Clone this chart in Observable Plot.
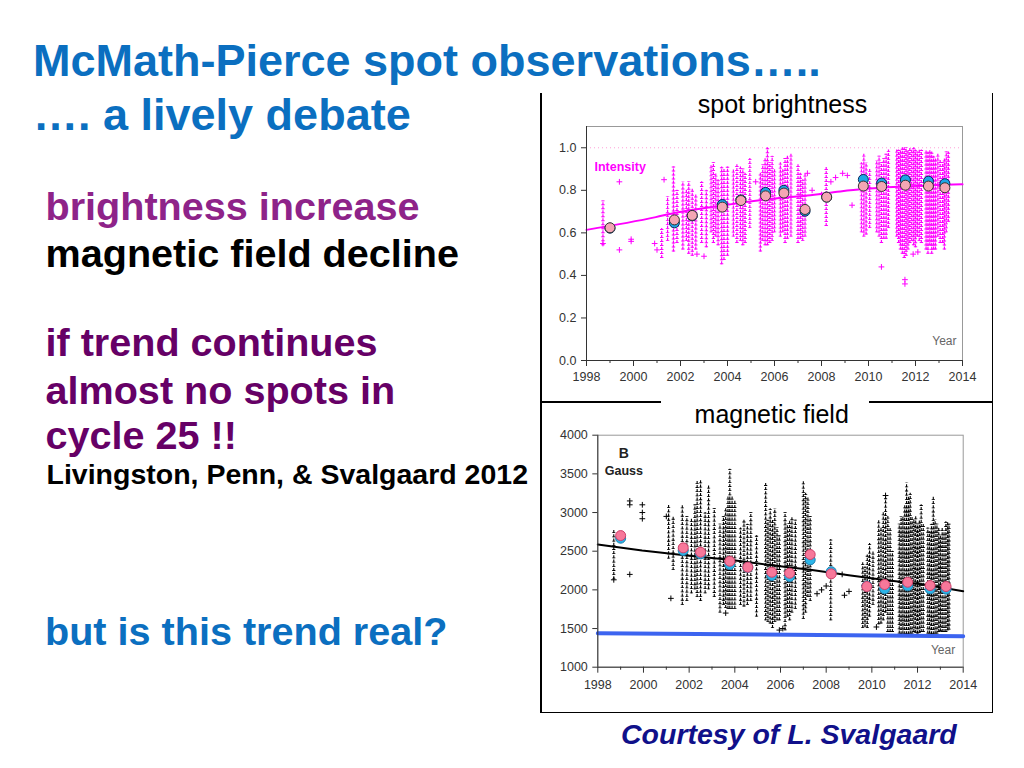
<!DOCTYPE html>
<html><head><meta charset="utf-8">
<script src="https://cdn.jsdelivr.net/npm/d3@7"></script>
<script src="https://cdn.jsdelivr.net/npm/@observablehq/plot@0.6"></script>
<style>
body{margin:0;background:#fff;}
#page{position:relative;width:1024px;height:768px;overflow:hidden;font-family:"Liberation Sans",Arial,sans-serif;background:#fff;}
.t{position:absolute;white-space:nowrap;font-weight:bold;line-height:1;}
.big{font-size:39.6px;height:40px;}
.ln{position:absolute;background:#000;}
.chart{position:absolute;}
.ct{position:absolute;white-space:nowrap;font-size:25px;line-height:1;height:25px;color:#000;transform:translateX(-50%);}
</style></head><body><div id="page">
<div class="t" style="left:33px;top:37.9px;font-size:45px;color:#0B6FC0;">McMath-Pierce spot observations…..</div>
<div class="t" style="left:33px;top:91.9px;font-size:45px;color:#0B6FC0;">…. a lively debate</div>
<div class="t big" style="left:45.5px;top:187.2px;color:#8E2389;">brightness increase</div>
<div class="t big" style="left:45.5px;top:233.8px;color:#000;">magnetic field decline</div>
<div class="t big" style="left:45.5px;top:323.2px;color:#660066;">if trend continues</div>
<div class="t big" style="left:45.5px;top:370.5px;color:#660066;">almost no spots in</div>
<div class="t big" style="left:45.5px;top:415.8px;color:#660066;">cycle 25 !!</div>
<div class="t" style="left:46.5px;top:459.9px;font-size:28.5px;color:#000;">Livingston, Penn, &amp; Svalgaard 2012</div>
<div class="t big" style="left:45px;top:611.5px;color:#0B6FC0;">but is this trend real?</div>
<div class="t" style="left:621px;top:719.8px;font-size:28.5px;font-style:italic;color:#10108A;">Courtesy of L. Svalgaard</div>

<div class="ln" style="left:540px;top:93px;width:1.5px;height:620px;"></div>
<div class="ln" style="left:991.5px;top:93px;width:1.5px;height:620px;"></div>
<div class="ln" style="left:540px;top:711.5px;width:453px;height:1.5px;"></div>
<div class="ln" style="left:540px;top:401px;width:121px;height:1.5px;"></div>
<div class="ln" style="left:869px;top:401px;width:124px;height:1.5px;"></div>

<div class="ct" style="left:782.5px;top:92px;">spot brightness</div>
<div class="ct" style="left:771.7px;top:402.3px;">magnetic field</div>

<div id="top" class="chart" style="left:540.7px;top:93px;"></div>
<div id="bot" class="chart" style="left:541px;top:404px;"></div>
</div>
<script>
// ---- shared axis data ----
const yearTicks = [1998, 2000, 2002, 2004, 2006, 2008, 2010, 2012, 2014];
const minorYears = [1999, 2001, 2003, 2005, 2007, 2009, 2011, 2013];
const brightTicks = [0, 0.2, 0.4, 0.6, 0.8, 1.0];
const fieldTicks = [1000, 1500, 2000, 2500, 3000, 3500, 4000];

// ---- yearly averages (circles) ----
const epochYears = [1999.0, 2001.74, 2002.5, 2003.78, 2004.57, 2005.62, 2006.4, 2007.3, 2008.22, 2009.78, 2010.56, 2011.57, 2012.55, 2013.25];
const brightPink = [0.624, 0.661, 0.682, 0.721, 0.752, 0.774, 0.787, 0.710, 0.768, 0.820, 0.818, 0.824, 0.820, 0.812];
const brightBlue = [0.622, 0.647, 0.680, 0.733, 0.755, 0.790, 0.800, 0.702, 0.768, 0.851, 0.834, 0.849, 0.843, 0.831];
const fieldPink = [2702, 2543, 2487, 2370, 2293, 2228, 2215, 2457, 2207, 2043, 2069, 2099, 2056, 2043];
const fieldBlue = [2668, 2508, 2465, 2328, 2290, 2185, 2172, 2388, 2235, 2050, 2013, 2052, 2013, 2009];

// ---- trend lines ----
const brightTrendX = [1998, 2000.95, 2001.73, 2003.79, 2005.65, 2007.4, 2008.8, 2009.77, 2011.6, 2014];
const brightTrendY = [0.614, 0.674, 0.693, 0.729, 0.757, 0.776, 0.795, 0.806, 0.818, 0.828];
const fieldTrendX = [1998, 1999.94, 2001.9, 2003.77, 2005.7, 2007.3, 2009.07, 2010.57, 2012.28, 2014];
const fieldTrendY = [2586, 2508, 2444, 2388, 2315, 2259, 2185, 2129, 2069, 1983];
const thresholdX = [1998, 2014];
const thresholdY = [1440, 1400];

// ---- observation columns: [year, low, high] ----
const brightColumns = [
 [1998.7,0.54,0.75],[2001.2,0.48,0.62],[2001.45,0.56,0.77],[2001.7,0.51,0.91],[2001.85,0.55,0.80],
 [2002.1,0.52,0.84],[2002.25,0.56,0.80],[2002.35,0.50,0.84],[2002.5,0.49,0.81],[2002.65,0.52,0.78],[2002.9,0.55,0.84],
 [2003.1,0.53,0.80],[2003.3,0.60,0.92],[2003.4,0.55,0.93],[2003.5,0.58,0.88],[2003.6,0.54,0.85],[2003.75,0.45,0.91],
 [2003.85,0.47,0.90],[2004.0,0.49,0.91],[2004.25,0.58,0.90],[2004.4,0.55,0.92],[2004.55,0.56,0.91],
 [2004.65,0.54,0.90],[2004.75,0.55,0.88],[2004.95,0.62,0.95],[2005.4,0.51,0.88],[2005.5,0.56,0.92],[2005.6,0.54,0.95],[2005.7,0.54,1.0],
 [2005.8,0.55,0.93],[2005.9,0.56,0.96],[2006.0,0.60,0.90],[2006.25,0.58,0.93],[2006.35,0.60,0.90],[2006.45,0.55,0.95],[2006.55,0.57,0.96],
 [2006.7,0.58,0.97],[2007.0,0.55,0.92],[2007.1,0.57,0.88],[2007.2,0.56,0.85],[2007.3,0.58,0.88],[2008.2,0.63,0.91],
 [2009.7,0.60,0.93],[2009.8,0.58,0.97],[2009.9,0.59,0.93],[2010.05,0.62,0.90],[2010.35,0.60,0.94],[2010.45,0.58,0.96],[2010.55,0.55,0.93],
 [2010.65,0.57,0.95],[2010.75,0.57,0.97],[2010.85,0.62,0.99],[2011.2,0.58,0.99],[2011.28,0.55,0.99],[2011.36,0.52,0.99],[2011.44,0.50,1.0],
 [2011.52,0.48,1.0],[2011.6,0.49,1.0],[2011.68,0.52,0.99],[2011.76,0.55,1.0],[2011.84,0.56,0.99],[2011.92,0.54,1.0],
 [2012.0,0.53,0.99],[2012.08,0.58,0.98],[2012.16,0.56,0.99],[2012.25,0.55,0.99],[2012.45,0.52,0.99],[2012.53,0.50,0.98],
 [2012.61,0.54,0.99],[2012.69,0.50,0.98],[2012.77,0.52,0.96],[2012.85,0.52,0.95],[2012.95,0.58,0.97],[2013.05,0.55,0.94],
 [2013.15,0.55,0.93],[2013.23,0.52,0.95],[2013.31,0.60,0.98],[2013.4,0.65,0.98]
];
const brightPoints = [
 [1998.7,0.55],[1999.4,0.84],[1999.4,0.52],[1999.9,0.57],[1999.9,0.56],[2001.3,0.85],[2000.9,0.55],
 [2001.0,0.52],[2008.6,0.86],[2008.9,0.88],[2009.1,0.87],[2007.4,0.88],[2010.55,0.44],[2011.55,0.36],
 [2011.55,0.38],[2009.3,0.73],[2008.0,0.78],[2011.9,0.50],[2003.0,0.49],[2002.7,0.50],[2007.6,0.80],
 [2008.4,0.84],[2005.2,0.84],[2012.1,0.51]
];
const fieldColumns = [
 [1998.7,2130,2780],[2001.1,2400,3100],[2001.3,2250,2950],[2001.7,1800,3100],[2001.9,1850,2950],
 [2002.1,1950,2920],[2002.25,2000,3100],[2002.35,1900,3400],[2002.5,1850,3420],[2002.7,1950,3000],[2002.85,2000,3350],
 [2003.1,1900,3050],[2003.35,1700,2850],[2003.5,1800,2950],[2003.6,1760,3050],[2003.7,1750,3200],[2003.78,1750,3560],
 [2003.88,1750,3200],[2004.0,1750,3150],[2004.25,1800,2800],[2004.4,1780,2900],[2004.55,1800,2850],
 [2004.7,1850,3000],[2004.95,1650,2700],[2005.35,1600,3380],[2005.45,1580,2900],[2005.55,1560,3050],[2005.65,1500,2900],
 [2005.75,1580,3050],[2005.85,1600,2800],[2005.95,1600,2700],[2006.2,1470,3000],[2006.3,1650,2850],[2006.4,1600,2900],[2006.5,1700,2950],
 [2006.65,1750,2900],[2007.0,1620,3400],[2007.1,1700,3250],[2007.2,1900,3200],[2007.3,1850,2950],[2008.2,1600,2650],
 [2009.6,1500,2350],[2009.7,1520,2300],[2009.8,1500,2450],[2009.9,1650,2600],[2010.05,1800,2500],[2010.3,1550,2900],
 [2010.4,1560,2800],[2010.5,1600,3000],[2010.6,1700,3220],[2010.7,1450,2950],[2010.8,1450,2800],[2010.9,1450,2500],[2011.2,1430,2850],
 [2011.28,1420,2950],[2011.36,1430,2950],[2011.44,1420,3100],[2011.52,1420,3380],[2011.6,1420,3200],[2011.68,1430,3250],
 [2011.76,1430,2950],[2011.84,1450,2900],[2011.92,1440,2950],[2012.0,1430,2850],[2012.08,1440,2900],[2012.16,1450,3100],[2012.25,1450,2850],
 [2012.45,1430,2800],[2012.53,1430,2750],[2012.61,1420,2850],[2012.69,1420,3200],[2012.77,1430,2900],[2012.85,1430,2850],[2012.93,1450,2800],
 [2013.0,1460,2700],[2013.08,1450,2800],[2013.16,1450,2750],[2013.24,1450,2880],[2013.32,1470,2880],[2013.38,1480,2850]
];
const fieldPoints = [
 [1999.4,3150],[1999.4,3100],[1999.4,2200],[1999.95,3100],[1999.95,3000],[1999.95,2920],[1998.7,2130],
 [2001.2,1890],[2001.0,2950],[2003.6,1700],[2007.6,1950],[2007.8,2000],[2008.7,2200],[2008.8,1930],
 [2009.0,1980],[2008.0,2050],[2005.95,1480],[2010.2,1520],[2010.6,3220],[2006.1,1500]
];

// ---- build tables ----
const zip = (xs, ys) => xs.map((x, i) => ({x, y: ys[i]}));
const cols = a => a.map(([x, lo, hi]) => ({x, lo, hi}));
const pts = a => a.map(([x, y]) => ({x, y}));

const style = {fontFamily: "'Liberation Sans', Arial, sans-serif", fontSize: "12.5px", color: "#333", background: "transparent", overflow: "visible"};

const topChart = Plot.plot({
  width: 450, height: 305, marginLeft: 45, marginRight: 29, marginTop: 33, marginBottom: 38,
  x: {domain: [1998, 2014]}, y: {domain: [0, 1.1]}, style,
  marks: [
    Plot.frame({stroke: "#999"}),
    Plot.ruleY([1.0], {stroke: "#FF9FD8", strokeDasharray: "1,3"}),
    Plot.ruleX(cols(brightColumns), {x: "x", y1: "lo", y2: "hi", stroke: "#FF00FF", strokeWidth: 1.2, strokeDasharray: "3,1"}),
    Plot.ruleX(cols(brightColumns), {x: "x", y1: "lo", y2: "hi", stroke: "#FF00FF", strokeWidth: 3.4, strokeDasharray: "0.9,3.1"}),
    Plot.dot(pts(brightPoints), {x: "x", y: "y", symbol: "plus", r: 2, stroke: "#FF00FF", strokeWidth: 1}),
    Plot.line(zip(brightTrendX, brightTrendY), {x: "x", y: "y", stroke: "#FF00FF", strokeWidth: 2, curve: "monotone-x"}),
    Plot.dot(zip(epochYears, brightBlue), {x: "x", y: "y", r: 5, fill: "#1EA6E6", stroke: "#0A2A5A", strokeWidth: 1}),
    Plot.dot(zip(epochYears, brightPink), {x: "x", y: "y", r: 5, fill: "#F4A6B4", stroke: "#333", strokeWidth: 1}),
    Plot.axisX({ticks: yearTicks, tickSize: 6, tickPadding: 6, tickFormat: d => String(d), label: null}),
    Plot.axisX({ticks: minorYears, tickSize: 3, tickFormat: () => "", label: null}),
    Plot.axisY({ticks: brightTicks, tickSize: 5, tickPadding: 5, tickFormat: d => d.toFixed(1), label: null}),
    Plot.ruleX([1998], {stroke: "#333"}),
    Plot.ruleY([0], {stroke: "#333"}),
    Plot.text(["Intensity"], {frameAnchor: "top-left", dx: 8, dy: 36, fill: "#FF00FF", fontWeight: "bold", fontSize: 12.5, textAnchor: "start"}),
    Plot.text(["Year"], {frameAnchor: "bottom-right", dx: -6, dy: -16, fill: "#666", fontSize: 12, textAnchor: "end"})
  ]
});
document.getElementById("top").append(topChart);

const botChart = Plot.plot({
  width: 450, height: 300, marginLeft: 56.3, marginRight: 28.3, marginTop: 30.7, marginBottom: 37.3,
  x: {domain: [1998, 2014]}, y: {domain: [1000, 4000]}, style,
  marks: [
    Plot.frame({stroke: "#999"}),
    Plot.ruleX(cols(fieldColumns), {x: "x", y1: "lo", y2: "hi", stroke: "#000", strokeWidth: 1.1, strokeDasharray: "3,1.2"}),
    Plot.ruleX(cols(fieldColumns), {x: "x", y1: "lo", y2: "hi", stroke: "#000", strokeWidth: 3.2, strokeDasharray: "0.8,3.4"}),
    Plot.dot(pts(fieldPoints), {x: "x", y: "y", symbol: "plus", r: 2, stroke: "#000", strokeWidth: 1}),
    Plot.line(zip(fieldTrendX, fieldTrendY), {x: "x", y: "y", stroke: "#000", strokeWidth: 2}),
    Plot.line(zip(thresholdX, thresholdY), {x: "x", y: "y", stroke: "#3C64F0", strokeWidth: 4}),
    Plot.dot(zip(epochYears, fieldBlue), {x: "x", y: "y", r: 5, fill: "#2CB5E8", stroke: "#1C7FB0", strokeWidth: 1}),
    Plot.dot(zip(epochYears, fieldPink), {x: "x", y: "y", r: 5, fill: "#F7789A", stroke: "#D0406A", strokeWidth: 1}),
    Plot.axisX({ticks: yearTicks, tickSize: 6, tickPadding: 7, tickFormat: d => String(d), label: null}),
    Plot.axisX({ticks: minorYears, tickSize: 3, tickFormat: () => "", label: null}),
    Plot.axisY({ticks: fieldTicks, tickSize: 5, tickPadding: 5, tickFormat: d => String(d), label: null}),
    Plot.ruleX([1998], {stroke: "#333"}),
    Plot.ruleY([1000], {stroke: "#333"}),
    Plot.text(["B"], {frameAnchor: "top-left", dx: 26, dy: 13, fill: "#222", fontWeight: "bold", fontSize: 14, textAnchor: "middle"}),
    Plot.text(["Gauss"], {frameAnchor: "top-left", dx: 7, dy: 31, fill: "#222", fontWeight: "bold", fontSize: 12.5, textAnchor: "start"}),
    Plot.text(["Year"], {frameAnchor: "bottom-right", dx: -8, dy: -13, fill: "#666", fontSize: 12, textAnchor: "end"})
  ]
});
document.getElementById("bot").append(botChart);
</script>
</body></html>
